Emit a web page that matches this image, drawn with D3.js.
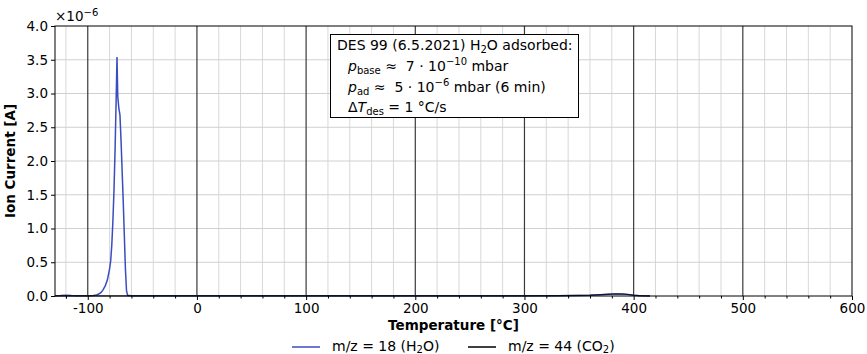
<!DOCTYPE html>
<html><head><meta charset="utf-8">
<script src="https://cdn.jsdelivr.net/npm/d3@7"></script>
<style>body{margin:0;background:#fff}svg{font-family:"DejaVu Sans",sans-serif}</style>
</head><body><svg id="c" width="867" height="354"></svg>
<script>
// Data (ion current in units of 1e-6 A)
const tempH2O = [-130,-125,-120,-115,-110,-105,-100,-95,-92,-90,-88,-86,-84,-82,-80,-79,-78,-77,-76,-75,-74,-73.2,-72.5,-71.5,-70.5,-69.5,-68.5,-67.5,-66.5,-65.5,-64.5,-63.5,-60,-50,-30,0,50,100,150,200,250,300,330,350,360,370,380,385,390,395,400,405,410,415];
const ionH2O  = [0.004,0.006,0.012,0.006,0.004,0.003,0.004,0.008,0.015,0.03,0.05,0.09,0.15,0.24,0.4,0.52,0.75,1.1,1.55,2.15,2.9,3.54,2.95,2.78,2.68,2.3,1.85,1.4,0.9,0.4,0.08,0.01,0.003,0.002,0.002,0.002,0.002,0.002,0.002,0.002,0.002,0.003,0.005,0.008,0.012,0.02,0.028,0.03,0.028,0.022,0.012,0.005,0.002,0.001];
const tempCO2 = [-130,-100,-50,0,50,100,150,200,250,300,330,350,360,370,380,385,390,395,400,405,410,415];
const ionCO2  = [0.002,0.002,0.002,0.002,0.002,0.002,0.002,0.002,0.002,0.003,0.005,0.008,0.012,0.02,0.027,0.03,0.028,0.022,0.012,0.005,0.002,0.001];
const xTicks = [-100,0,100,200,300,400,500,600];
const xTickLabels = ["-100","0","100","200","300","400","500","600"];
const yTicks = [0,0.5,1.0,1.5,2.0,2.5,3.0,3.5,4.0];
const yTickLabels = ["0.0","0.5","1.0","1.5","2.0","2.5","3.0","3.5","4.0"];
const seriesNames = ["m/z = 18 (H\u2082O)","m/z = 44 (CO\u2082)"];
const seriesColors = ["#3b4cc0","#000000"];

const svg = d3.select("#c");
const L=55, R=852, T=26, B=296;
const x = d3.scaleLinear().domain([-130,600]).range([L,R]);
const y = d3.scaleLinear().domain([0,4]).range([B,T]);

// grid
const g = svg.append("g");
const minorX = d3.range(-120,601,20).filter(v=>v%100!==0);
g.selectAll(".mx").data(minorX).join("line").attr("x1",d=>x(d)).attr("x2",d=>x(d)).attr("y1",T).attr("y2",B).attr("stroke","#d8d8d8").attr("stroke-width",1);
g.selectAll(".hy").data(yTicks.slice(1,-1)).join("line").attr("x1",L).attr("x2",R).attr("y1",d=>y(d)).attr("y2",d=>y(d)).attr("stroke","#d0d0d0").attr("stroke-width",1);
g.selectAll(".Mx").data(xTicks.filter(v=>v<600)).join("line").attr("x1",d=>x(d)).attr("x2",d=>x(d)).attr("y1",T).attr("y2",B).attr("stroke","#3a3a3a").attr("stroke-width",1.2);

// lines
const line = d3.line().x(d=>x(d[0])).y(d=>y(d[1]));
svg.append("path").datum(tempH2O.map((t,i)=>[t,ionH2O[i]])).attr("d",line).attr("fill","none").attr("stroke",seriesColors[0]).attr("stroke-width",1.5);
svg.append("path").datum(tempCO2.map((t,i)=>[t,ionCO2[i]])).attr("d",line).attr("fill","none").attr("stroke",seriesColors[1]).attr("stroke-width",1.2).attr("stroke-opacity",0.7);

// frame
svg.append("rect").attr("x",L).attr("y",T).attr("width",R-L).attr("height",B-T).attr("fill","none").attr("stroke","#000").attr("stroke-width",1);

// axes
svg.append("g").attr("transform",`translate(0,${B})`).call(d3.axisBottom(x).tickValues(xTicks).tickSize(4).tickPadding(3).tickFormat((d,i)=>xTickLabels[i]));
svg.append("g").attr("transform",`translate(0,${B})`).call(d3.axisBottom(x).tickValues(minorX.concat([-120])).tickSize(2.5).tickFormat(""));
svg.append("g").attr("transform",`translate(${L},0)`).call(d3.axisLeft(y).tickValues(yTicks).tickSize(4).tickPadding(3).tickFormat((d,i)=>yTickLabels[i]));
svg.selectAll(".domain").remove();
svg.selectAll(".tick text").attr("font-size",13.5).attr("font-family","DejaVu Sans").attr("fill","#000");
svg.selectAll(".tick line").attr("stroke","#000");

svg.append("text").attr("x",L).attr("y",21).attr("font-size",13.5).text("\u00d710").append("tspan").attr("dy",-5).attr("font-size",10).text("\u22126");

svg.append("text").attr("transform",`translate(15,${(T+B)/2}) rotate(-90)`).attr("text-anchor","middle").attr("font-size",13.5).attr("font-weight","bold").text("Ion Current [A]");
svg.append("text").attr("x",(L+R)/2).attr("y",330).attr("text-anchor","middle").attr("font-size",13.5).attr("font-weight","bold").text("Temperature [\u00b0C]");

// annotation box
const bx = svg.append("g");
bx.append("rect").attr("x",330.5).attr("y",34.5).attr("width",248).attr("height",83).attr("fill","#fff").attr("stroke","#000").attr("stroke-width",1);
const fs = 14;
const t1 = bx.append("text").attr("x",337).attr("y",50).attr("font-size",fs);
t1.append("tspan").text("DES 99 (6.5.2021) H");
t1.append("tspan").attr("font-size",10).attr("dy",3).text("2");
t1.append("tspan").attr("dy",-3).text("O adsorbed:");
const t2 = bx.append("text").attr("x",348).attr("y",71).attr("font-size",fs);
t2.append("tspan").attr("font-style","italic").text("p");
t2.append("tspan").attr("font-size",10).attr("dy",3).text("base");
t2.append("tspan").attr("dy",-3).text("\u00a0\u2248\u00a0\u00a07 \u00b7 10");
t2.append("tspan").attr("font-size",10).attr("dy",-6).text("\u221210");
t2.append("tspan").attr("dy",6).text("\u00a0mbar");
const t3 = bx.append("text").attr("x",348).attr("y",92).attr("font-size",fs);
t3.append("tspan").attr("font-style","italic").text("p");
t3.append("tspan").attr("font-size",10).attr("dy",3).text("ad");
t3.append("tspan").attr("dy",-3).text("\u00a0\u2248\u00a0\u00a05 \u00b7 10");
t3.append("tspan").attr("font-size",10).attr("dy",-6).text("\u22126");
t3.append("tspan").attr("dy",6).text("\u00a0mbar (6 min)");
const t4 = bx.append("text").attr("x",348).attr("y",112).attr("font-size",fs);
t4.append("tspan").text("\u0394");
t4.append("tspan").attr("font-style","italic").text("T");
t4.append("tspan").attr("font-size",10).attr("dy",3).text("des");
t4.append("tspan").attr("dy",-3).text("\u00a0= 1 \u00b0C/s");

// legend
const lg = svg.append("g");
const lx = [292, 468];
seriesNames.forEach((n,i)=>{
  lg.append("line").attr("x1",lx[i]).attr("x2",lx[i]+28).attr("y1",347).attr("y2",347).attr("stroke",seriesColors[i]).attr("stroke-width",1.5);
  const tx = lg.append("text").attr("x",lx[i]+40).attr("y",350.5).attr("font-size",14);
  tx.append("tspan").text(n.replace(/\u2082.*$/,""));
  tx.append("tspan").attr("font-size",10).attr("dy",2).text("2");
  tx.append("tspan").attr("dy",-2).text(n.replace(/^.*\u2082/,""));
});
</script></body></html>
